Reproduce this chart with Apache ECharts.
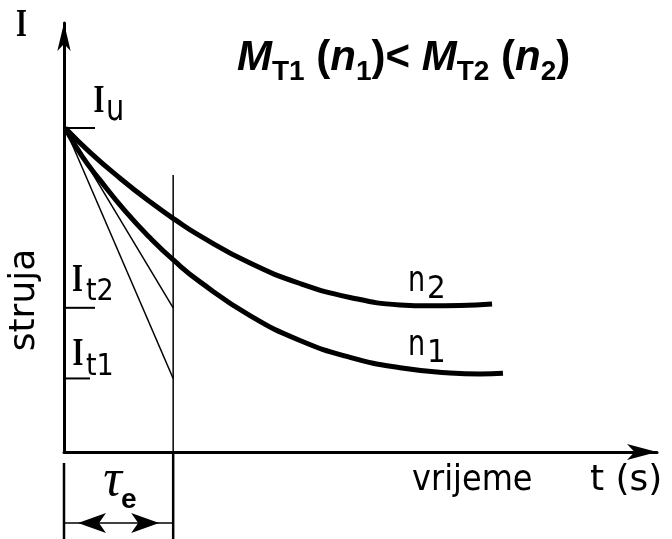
<!DOCTYPE html>
<html>
<head>
<meta charset="utf-8">
<script src="https://cdn.jsdelivr.net/npm/echarts@6/dist/echarts.min.js"></script>
<style>
  html, body { margin: 0; padding: 0; background: #fff; }
  #chart { width: 672px; height: 539px; }
</style>
</head>
<body>
<div id="chart"></div>
<script>
// Time in units of the electrical time constant, current in units of the starting current Iu.
const tMax = 5.432;
const iMax = 1.324;
const tau = 1.0;

const startCurrent = 1.0;   // Iu
const tangentEnd2 = 0.445;  // It2
const tangentEnd1 = 0.227;  // It1

// Current decay for speed n2 (upper curve)
const curveN2 = [
  [0.01, 1.0], [0.238, 0.925], [0.513, 0.845], [0.788, 0.772], [1.017, 0.717],
  [1.246, 0.667], [1.704, 0.583], [2.162, 0.520], [2.620, 0.477], [3.078, 0.454],
  [3.352, 0.451], [3.627, 0.452], [3.921, 0.457]
];

// Current decay for speed n1 (lower curve)
const curveN1 = [
  [0.01, 1.0], [0.165, 0.913], [0.330, 0.839], [0.559, 0.744], [0.788, 0.661],
  [1.017, 0.588], [1.246, 0.525], [1.704, 0.421], [2.162, 0.344], [2.620, 0.292],
  [3.078, 0.260], [3.536, 0.244], [3.811, 0.241], [4.021, 0.243]
];

// Drawing constants (in axis units) for the short level marks and the tau dimension
const markLen = { Iu: 0.284, It2: 0.284, It1: 0.238 };
const tauLineTop = 0.855;
const dimBottom = -0.27;
const dimArrowY = -0.219;
const dimTickTop = -0.034;

const black = '#000';
const serifI = 'bold 40px "Liberation Serif"';
const sans = '"DejaVu Sans"';

function seg(points, width, extra) {
  return Object.assign({
    type: 'line', data: points, symbol: 'none', showSymbol: false, clip: false,
    silent: true, lineStyle: { color: black, width: width }, z: 3
  }, extra || {});
}

function txt(x, y, text, font, opts) {
  opts = opts || {};
  return {
    type: 'text', x: x, y: y, rotation: opts.rotation || 0,
    scaleX: opts.scaleX || 1, silent: true, z: 10,
    style: {
      text: text, font: font, fill: black,
      align: opts.align || 'left', textAlign: opts.align || 'left',
      verticalAlign: 'middle', textVerticalAlign: 'middle'
    }
  };
}

const arrowPoint = (x, y, rot, off) => ({
  value: [x, y], symbol: 'arrow', symbolSize: [15, 28], symbolRotate: rot,
  symbolOffset: [off, 0]
});

const chart = echarts.init(document.getElementById('chart'), null, { renderer: 'canvas' });

chart.setOption({
  animation: false,
  backgroundColor: '#fff',
  grid: { left: 64, top: 23, width: 593, height: 429, containLabel: false, outerBoundsMode: 'none' },
  title: {
    left: 237, top: 30, padding: 0,
    text: '{mi|M}{s|T1}{p| (}{mi|n}{s|1}{p|)< }{mi|M}{s|T2}{p| (}{mi|n}{s|2}{p|)}',
    textStyle: {
      rich: {
        mi: { fontFamily: 'Liberation Sans', fontWeight: 'bold', fontStyle: 'italic', fontSize: 42, lineHeight: 56, color: black },
        p: { fontFamily: 'Liberation Sans', fontWeight: 'bold', fontSize: 42, lineHeight: 56, color: black },
        s: { fontFamily: 'Liberation Sans', fontWeight: 'bold', fontSize: 28, lineHeight: 26, verticalAlign: 'bottom', color: black }
      }
    }
  },
  xAxis: {
    type: 'value', min: 0, max: tMax,
    axisLine: { show: true, onZero: false, symbol: ['none', 'arrow'], symbolSize: [12, 30], lineStyle: { color: black, width: 3 } },
    axisTick: { show: false }, axisLabel: { show: false }, splitLine: { show: false }
  },
  yAxis: {
    type: 'value', min: 0, max: iMax,
    axisLine: { show: true, onZero: false, symbol: ['none', 'arrow'], symbolSize: [10, 28], lineStyle: { color: black, width: 3 } },
    axisTick: { show: false }, axisLabel: { show: false }, splitLine: { show: false }
  },
  series: [
    seg(curveN2, 5, { smooth: 0.5, z: 4 }),
    seg(curveN1, 5, { smooth: 0.5, z: 4 }),
    seg([[0.01, startCurrent], [tau, tangentEnd2]], 1.5),
    seg([[0.01, startCurrent], [tau, tangentEnd1]], 1.5),
    seg([[0, startCurrent], [markLen.Iu, startCurrent]], 2),
    seg([[0, tangentEnd2], [markLen.It2, tangentEnd2]], 2),
    seg([[0, tangentEnd1], [markLen.It1, tangentEnd1]], 2),
    seg([[tau, tauLineTop], [tau, 0]], 1.5),
    seg([[tau, 0], [tau, dimBottom]], 2.5),
    seg([[0, dimTickTop], [0, dimBottom]], 2.5),
    seg([arrowPoint(0, dimArrowY, 90, 14), arrowPoint(tau, dimArrowY, -90, -14)], 1.5,
        { showSymbol: true, itemStyle: { color: black } })
  ],
  graphic: [
    txt(21.5, 26, 'I', serifI, { align: 'center', scaleX: 0.7 }),
    txt(99, 101.5, 'I', serifI, { align: 'center', scaleX: 0.7 }),
    txt(106, 110.5, 'u', '36px ' + sans, { scaleX: 0.8 }),
    txt(77.5, 281, 'I', serifI, { align: 'center', scaleX: 0.7 }),
    txt(86, 292.6, 't2', '30px ' + sans, { scaleX: 0.9 }),
    txt(78, 355, 'I', serifI, { align: 'center', scaleX: 0.7 }),
    txt(86, 367.6, 't1', '30px ' + sans, { scaleX: 0.9 }),
    txt(408, 281.6, 'n', '36px ' + sans, { scaleX: 0.75 }),
    txt(427, 289.6, '2', '32px ' + sans, { scaleX: 0.92 }),
    txt(408, 346, 'n', '36px ' + sans, { scaleX: 0.75 }),
    txt(427, 354, '1', '32px ' + sans, { scaleX: 0.92 }),
    txt(25, 300, 'struja', '36px ' + sans, { align: 'center', rotation: Math.PI / 2 }),
    txt(412, 480.4, 'vrijeme', '36px ' + sans, { scaleX: 0.89 }),
    txt(590, 480.4, 't (s)', '36px ' + sans),
    txt(112.5, 481.6, 'τ', 'italic 52px "Liberation Serif"', { align: 'center' }),
    txt(121, 500, 'e', 'bold 28px "Liberation Sans"')
  ]
});
</script>
</body>
</html>
